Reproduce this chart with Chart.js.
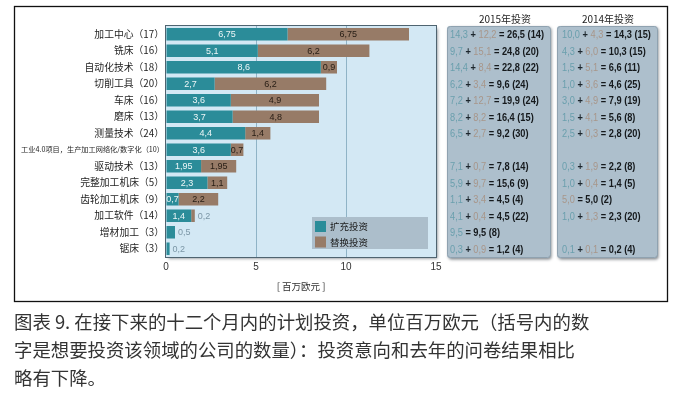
<!DOCTYPE html>
<html>
<head>
<meta charset="utf-8">
<script src="https://cdn.jsdelivr.net/npm/chart.js@4.4.1/dist/chart.umd.min.js"></script>
<style>
  html, body { margin: 0; padding: 0; background: #fff; }
  #wrap { position: relative; width: 674px; height: 396px; }
  #cap {
    position: absolute; left: 14px; top: 307px;
    font: 18.4px "Noto Sans CJK SC", sans-serif; line-height: 28px;
    color: #333; white-space: nowrap;
  }
</style>
</head>
<body>
<div id="wrap">
  <canvas id="chart" width="674" height="396"></canvas>
  <div id="cap">图表 9. 在接下来的十二个月内的计划投资，单位百万欧元（括号内的数<br>字是想要投资该领域的公司的数量）：投资意向和去年的问卷结果相比<br>略有下降。</div>
</div>
<script>
// categories (number of companies in brackets)
const categories = [
  '加工中心（17）', '铣床（16）', '自动化技术（18）', '切削工具（20）', '车床（16）',
  '磨床（13）', '测量技术（24）', '工业4.0项目，生产加工网络化/数字化（10）', '驱动技术（13）',
  '完整加工机床（5）', '齿轮加工机床（9）', '加工软件（14）', '增材加工（3）', '锯床（3）'
];
// planned investment, million EUR
const expansion   = [6.75, 5.1, 8.6, 2.7, 3.6, 3.7, 4.4, 3.6, 1.95, 2.3, 0.7, 1.4, 0.5, 0.2];
const replacement = [6.75, 6.2, 0.9, 6.2, 4.9, 4.8, 1.4, 0.7, 1.95, 1.1, 2.2, 0.2, 0, 0];
const xTicks = [0, 5, 10, 15];

// side tables: expansion + replacement = total (companies)
const exp2015 = [14.3, 9.7, 14.4, 6.2, 7.2, 8.2, 6.5, null, 7.1, 5.9, 1.1, 4.1, 9.5, 0.3];
const rep2015 = [12.2, 15.1, 8.4, 3.4, 12.7, 8.2, 2.7, null, 0.7, 9.7, 3.4, 0.4, null, 0.9];
const tot2015 = [26.5, 24.8, 22.8, 9.6, 19.9, 16.4, 9.2, null, 7.8, 15.6, 4.5, 4.5, 9.5, 1.2];
const cnt2015 = [14, 20, 22, 24, 24, 15, 30, null, 14, 9, 4, 22, 8, 4];

const exp2014 = [10.0, 4.3, 1.5, 1.0, 3.0, 1.5, 2.5, null, 0.3, 1.0, null, 1.0, null, 0.1];
const rep2014 = [4.3, 6.0, 5.1, 3.6, 4.9, 4.1, 0.3, null, 1.9, 0.4, 5.0, 1.3, null, 0.1];
const tot2014 = [14.3, 10.3, 6.6, 4.6, 7.9, 5.6, 2.8, null, 2.2, 1.4, 5.0, 2.3, null, 0.2];
const cnt2014 = [15, 15, 11, 25, 19, 8, 20, null, 8, 5, 2, 20, null, 4];

const TEAL = '#2b8c99';
const BROWN = '#977b67';
const CJK = '"Noto Sans CJK SC", sans-serif';
const NUM = '"Liberation Sans Narrow", "Liberation Sans", Arial, sans-serif';

const fmt = v => String(v).replace('.', ',');
const fmt1 = v => v.toFixed(1).replace('.', ',');

function roundRect(ctx, x, y, w, h, r) {
  ctx.beginPath();
  ctx.moveTo(x + r, y);
  ctx.arcTo(x + w, y, x + w, y + h, r);
  ctx.arcTo(x + w, y + h, x, y + h, r);
  ctx.arcTo(x, y + h, x, y, r);
  ctx.arcTo(x, y, x + w, y, r);
  ctx.closePath();
}

function rowParts(e, r, t, n) {
  if (t == null) return null;
  const numFont = '10.5px ' + NUM;
  const boldFont = 'bold 10.5px ' + NUM;
  const parts = [];
  if (e != null) parts.push({ text: fmt1(e), font: numFont, color: '#6a9fad' });
  if (e != null && r != null) parts.push({ text: ' + ', font: boldFont, color: '#1d262d' });
  if (r != null) parts.push({ text: fmt1(r), font: numFont, color: '#a8968a' });
  parts.push({ text: ' = ' + fmt1(t) + ' (' + n + ')', font: boldFont, color: '#15191c' });
  return parts;
}

function partsWidth(ctx, parts) {
  let w = 0;
  parts.forEach(p => { ctx.font = p.font; w += ctx.measureText(p.text).width; });
  return w;
}

function drawParts(ctx, x, y, k, parts) {
  ctx.save();
  ctx.translate(x, y);
  ctx.scale(k, 1);
  ctx.textAlign = 'left';
  ctx.textBaseline = 'middle';
  let cx = 0;
  parts.forEach(p => {
    ctx.font = p.font;
    ctx.fillStyle = p.color;
    ctx.fillText(p.text, cx, 0);
    cx += ctx.measureText(p.text).width;
  });
  ctx.restore();
}

const boxes = [
  { left: 447, right: 550, title: '2015年投资', tx: 505, x: 450, e: exp2015, r: rep2015, t: tot2015, n: cnt2015 },
  { left: 557, right: 657, title: '2014年投资', tx: 608, x: 562, e: exp2014, r: rep2014, t: tot2014, n: cnt2014 }
];

const decorPlugin = {
  id: 'decor',
  beforeDraw(chart) {
    const { ctx, chartArea: a } = chart;
    ctx.save();
    // outer frame
    ctx.strokeStyle = '#111';
    ctx.lineWidth = 1.3;
    ctx.strokeRect(14.5, 6.5, 653, 295);

    ctx.shadowColor = 'rgba(30,40,50,0.55)';
    ctx.shadowBlur = 3;
    ctx.shadowOffsetX = 1.5;
    ctx.shadowOffsetY = 1.5;
    // plot background
    ctx.fillStyle = '#d3e8f4';
    ctx.fillRect(a.left, a.top, a.width, a.height);
    // table boxes
    boxes.forEach(b => {
      ctx.fillStyle = '#adbfcc';
      roundRect(ctx, b.left, a.top, b.right - b.left, a.height + 1, 3);
      ctx.fill();
    });
    ctx.restore();

    ctx.save();
    boxes.forEach(b => {
      ctx.strokeStyle = '#8fa2b0';
      ctx.lineWidth = 1;
      roundRect(ctx, b.left + 0.5, a.top + 0.5, b.right - b.left, a.height, 3);
      ctx.stroke();
      ctx.fillStyle = '#1e1e1e';
      ctx.font = '10px ' + CJK;
      ctx.textAlign = 'center';
      ctx.textBaseline = 'middle';
      ctx.fillText(b.title, b.tx, 19);
    });
    ctx.restore();
  },
  afterDatasetsDraw(chart) {
    const { ctx } = chart;
    ctx.save();
    ctx.textBaseline = 'middle';
    ctx.font = '9px ' + NUM;
    chart.data.datasets.forEach((ds, d) => {
      const meta = chart.getDatasetMeta(d);
      meta.data.forEach((bar, i) => {
        const v = ds.data[i];
        if (!v) return;
        if (v <= 0.5) {
          ctx.textAlign = 'left';
          ctx.fillStyle = '#7b96a6';
          ctx.fillText(fmt(v), bar.x + 3, bar.y + 0.5);
        } else {
          ctx.textAlign = 'center';
          ctx.fillStyle = d === 0 ? '#eef7f8' : '#261c14';
          ctx.fillText(fmt(v), (bar.x + bar.base) / 2, bar.y + 0.5);
        }
      });
    });
    ctx.restore();
  },
  afterDraw(chart) {
    const { ctx, chartArea: a, scales: { y } } = chart;
    ctx.save();
    // plot frame
    ctx.strokeStyle = '#4f6470';
    ctx.lineWidth = 1;
    ctx.strokeRect(a.left - 0.5, a.top - 0.5, a.width + 1, a.height + 1);

    // legend
    ctx.fillStyle = '#acbecb';
    ctx.fillRect(312, 217, 116, 32);
    ctx.font = '9.5px ' + CJK;
    ctx.textAlign = 'left';
    ctx.textBaseline = 'middle';
    chart.data.datasets.forEach((ds, d) => {
      const cy = 226.5 + d * 15.5;
      ctx.fillStyle = ds.backgroundColor;
      ctx.fillRect(315, cy - 5.5, 11, 11);
      ctx.fillStyle = '#1c1c1c';
      ctx.fillText(ds.label, 330, cy);
    });

    // side tables
    const ref = rowParts(exp2015[0], rep2015[0], tot2015[0], cnt2015[0]);
    const k = Math.min(1, 94 / partsWidth(ctx, ref));
    boxes.forEach(b => {
      categories.forEach((c, i) => {
        const parts = rowParts(b.e[i], b.r[i], b.t[i], b.n[i]);
        if (!parts) return;
        drawParts(ctx, b.x, y.getPixelForValue(i) + 1, k, parts);
      });
    });
    ctx.restore();
  }
};

new Chart(document.getElementById('chart'), {
  type: 'bar',
  data: {
    labels: categories,
    datasets: [
      { label: '扩充投资', data: expansion, backgroundColor: TEAL },
      { label: '替换投资', data: replacement, backgroundColor: BROWN }
    ]
  },
  options: {
    indexAxis: 'y',
    responsive: false,
    animation: false,
    events: [],
    barPercentage: 0.76,
    categoryPercentage: 1,
    layout: { padding: { left: 0, right: 238, top: 26, bottom: 101 } },
    plugins: {
      legend: { display: false },
      tooltip: { enabled: false }
    },
    scales: {
      x: {
        stacked: true,
        min: 0,
        max: 15,
        afterBuildTicks: s => { s.ticks = xTicks.map(v => ({ value: v })); },
        afterFit: s => { s.height = 38; },
        border: { display: false },
        grid: {
          drawTicks: false,
          color: c => (c.tick && (c.tick.value === 5 || c.tick.value === 10)) ? '#8fb3c6' : 'rgba(0,0,0,0)'
        },
        ticks: { padding: 4, color: '#333', font: { family: NUM, size: 10 } },
        title: {
          display: true,
          text: '[ 百万欧元 ]',
          color: '#333',
          font: { family: CJK, size: 9.5 },
          padding: { top: 0, bottom: 3 }
        }
      },
      y: {
        stacked: true,
        afterFit: s => { s.width = 166; },
        border: { display: false },
        grid: { display: false, drawTicks: false },
        ticks: {
          padding: 2,
          color: '#1e1e1e',
          font: c => ({ family: CJK, size: c.index === 7 ? 7.2 : 9.8 })
        }
      }
    }
  },
  plugins: [decorPlugin]
});
</script>
</body>
</html>
